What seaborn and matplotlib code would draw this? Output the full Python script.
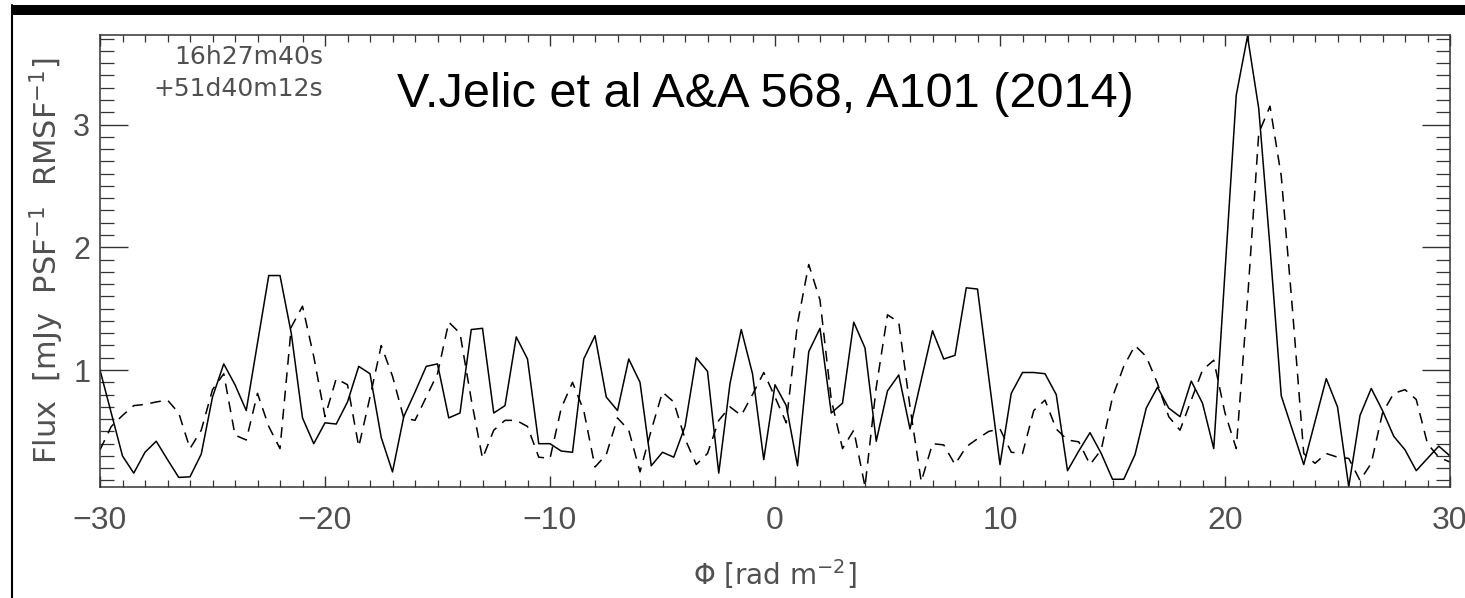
import numpy as np
import pandas as pd
import matplotlib
matplotlib.use("Agg")
import matplotlib.pyplot as plt
from matplotlib.ticker import MultipleLocator
from matplotlib.patches import Rectangle
from matplotlib.lines import Line2D
import seaborn as sns

# Faraday depth grid (rad m^-2)
phi = np.arange(-30.0, 30.0 + 0.25, 0.5)

# Solid line (Faraday spectrum)
flux_solid = [
    1.00, 0.65, 0.30, 0.16, 0.33, 0.42, 0.27, 0.125, 0.13, 0.315,
    0.78, 1.05, 0.88, 0.67, 1.22, 1.77, 1.77, 1.30, 0.61, 0.40,
    0.57, 0.56, 0.74, 1.03, 0.97, 0.45, 0.17, 0.62, 0.82, 1.03,
    1.05, 0.61, 0.65, 1.33, 1.34, 0.65, 0.71, 1.27, 1.09, 0.40,
    0.40, 0.34, 0.33, 1.09, 1.28, 0.78, 0.67, 1.09, 0.90, 0.22,
    0.33, 0.29, 0.54, 1.10, 0.99, 0.16, 0.89, 1.33, 0.97, 0.27,
    0.88, 0.71, 0.22, 1.15, 1.34, 0.65, 0.73, 1.39, 1.18, 0.42,
    0.83, 0.96, 0.52, 0.92, 1.32, 1.09, 1.12, 1.67, 1.66, 0.94,
    0.23, 0.81, 0.98, 0.98, 0.97, 0.80, 0.18, 0.34, 0.49, 0.32,
    0.11, 0.11, 0.31, 0.69, 0.86, 0.69, 0.62, 0.91, 0.73, 0.36,
    1.80, 3.24, 3.72, 3.13, 2.00, 0.79, 0.51, 0.23, 0.58, 0.93,
    0.70, 0.05, 0.63, 0.85, 0.67, 0.46, 0.35, 0.18, 0.28, 0.38,
    0.30,
]

# Dashed line
flux_dashed = [
    0.35, 0.54, 0.63, 0.71, 0.72, 0.74, 0.755, 0.65, 0.36, 0.51,
    0.84, 0.97, 0.47, 0.43, 0.81, 0.54, 0.36, 1.35, 1.52, 1.11,
    0.62, 0.93, 0.88, 0.375, 0.78, 1.20, 0.95, 0.61, 0.59, 0.78,
    0.97, 1.39, 1.30, 0.76, 0.28, 0.51, 0.59, 0.59, 0.54, 0.29,
    0.28, 0.69, 0.90, 0.67, 0.21, 0.31, 0.61, 0.51, 0.17, 0.51,
    0.82, 0.74, 0.44, 0.23, 0.32, 0.59, 0.70, 0.63, 0.80, 0.98,
    0.78, 0.57, 1.38, 1.86, 1.57, 0.76, 0.36, 0.51, 0.05, 0.86,
    1.45, 1.39, 0.70, 0.09, 0.40, 0.39, 0.23, 0.375, 0.44, 0.50,
    0.52, 0.33, 0.32, 0.67, 0.755, 0.52, 0.43, 0.415, 0.23, 0.35,
    0.78, 1.03, 1.20, 1.11, 0.89, 0.62, 0.51, 0.755, 1.00, 1.08,
    0.65, 0.36, 1.57, 2.93, 3.15, 2.58, 1.49, 0.32, 0.24, 0.32,
    0.29, 0.28, 0.10, 0.24, 0.65, 0.81, 0.84, 0.76, 0.40, 0.29,
    0.25,
]

x_ticks = [-30, -20, -10, 0, 10, 20, 30]
y_ticks = [1, 2, 3]
coord_lines = ["16h27m40s", "+51d40m12s"]
title_text = "V.Jelic et al A&A 568, A101 (2014)"

sns.set_style("ticks")
plt.rcParams["font.family"] = ["DejaVu Sans"]
tickfont = ["Liberation Sans", "DejaVu Sans"]

df = pd.DataFrame({"phi": phi, "solid": flux_solid, "dashed": flux_dashed})

fig = plt.figure(figsize=(14.65, 5.98), dpi=100)
ax = fig.add_axes([100 / 1465, 1 - 487 / 598, 1350 / 1465, 452 / 598])

sns.lineplot(data=df, x="phi", y="solid", ax=ax, color="black", lw=1.1)
sns.lineplot(data=df, x="phi", y="dashed", ax=ax, color="black", lw=1.1)
ax.lines[-1].set_dashes((7, 5))

ax.set_xlim(-30, 30)
ax.set_ylim(0.047, 3.73)
ax.set_xticks(x_ticks)
ax.set_yticks(y_ticks)
ax.xaxis.set_minor_locator(MultipleLocator(1))
ax.yaxis.set_minor_locator(MultipleLocator(0.1))

gray = "#505050"
for s in ax.spines.values():
    s.set_visible(True)
    s.set_color("#333333")
    s.set_linewidth(1.1)

ax.tick_params(axis="x", which="major", direction="in", length=8, width=1.0,
               top=True, bottom=True, colors="#333333", labelcolor=gray,
               pad=13.5)
ax.tick_params(axis="x", which="minor", direction="in", length=5, width=0.9,
               top=True, bottom=True, colors="#333333")
ax.tick_params(axis="y", which="major", direction="in", length=20, width=1.0,
               left=True, right=True, colors="#333333", labelcolor=gray,
               pad=7)
ax.tick_params(axis="y", which="minor", direction="in", length=10, width=0.9,
               left=True, right=True, colors="#333333")
for lab in ax.get_xticklabels():
    lab.set_family(tickfont)
    lab.set_fontsize(23)
for lab in ax.get_yticklabels():
    lab.set_family(tickfont)
    lab.set_fontsize(22)

ax.set_xlabel(r"$\Phi$ [rad m$^{-2}$]", fontsize=20, color=gray)
ax.xaxis.set_label_coords(0.5, (487 - 557) / 452)
ax.set_ylabel(r"Flux  [mJy  PSF$^{-1}$  RMSF$^{-1}$]", fontsize=22, color=gray)
ax.yaxis.set_label_coords((66 - 100) / 1350, 0.5)

# coordinates in the top-left corner
ax.text(323 / 1465, 1 - 57.5 / 598, coord_lines[0], transform=fig.transFigure,
        ha="right", va="center", fontsize=18, color=gray)
ax.text(323 / 1465, 1 - 88.5 / 598, coord_lines[1], transform=fig.transFigure,
        ha="right", va="center", fontsize=18, color=gray)

# big reference label
fig.text(397 / 1465, 1 - 107 / 598, title_text, ha="left", va="baseline",
         fontsize=35, color="black", family=["Liberation Sans", "DejaVu Sans"])

# slide frame: black bar at top and thin line at left
fig.patches.append(Rectangle((12 / 1465, 1 - 15 / 598), 1 - 12 / 1465, 10 / 598,
                             transform=fig.transFigure, facecolor="black",
                             edgecolor="none"))
fig.lines.append(Line2D([12 / 1465, 12 / 1465], [0, 1 - 5 / 598],
                        transform=fig.transFigure, color="black", lw=1.5))

fig.savefig("out.png", dpi=100)
